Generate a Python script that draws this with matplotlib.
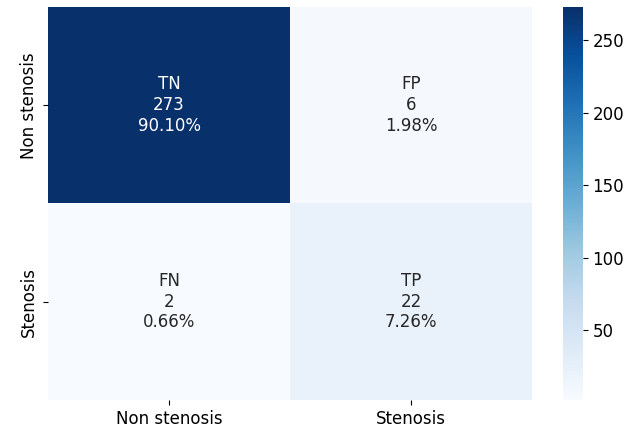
import numpy as np
import matplotlib
matplotlib.use("Agg")
import matplotlib.pyplot as plt
import seaborn as sns

# confusion matrix values
class_names = ["Non stenosis", "Stenosis"]
cell_names = ["TN", "FP", "FN", "TP"]
cell_counts = [273, 6, 2, 22]

counts = np.array(cell_counts).reshape(2, 2)
total = sum(cell_counts)
labels = [f"{n}\n{c}\n{c / total:.2%}" for n, c in zip(cell_names, cell_counts)]
labels = np.array(labels).reshape(2, 2)

plt.rcParams["font.size"] = 12

fig = plt.figure(figsize=(6.41, 4.37), dpi=100)
ax = fig.add_axes([0.075, 0.085, 0.755, 0.899])
cax = fig.add_axes([0.878, 0.085, 0.031, 0.899])

sns.heatmap(counts, annot=labels, fmt="", cmap="Blues", ax=ax, cbar_ax=cax,
            xticklabels=class_names, yticklabels=class_names,
            annot_kws={"fontsize": 12})
ax.set_yticklabels(class_names, va="center")
ax.tick_params(labelsize=12)
cax.tick_params(labelsize=12)

fig.savefig("out.png", dpi=100)
